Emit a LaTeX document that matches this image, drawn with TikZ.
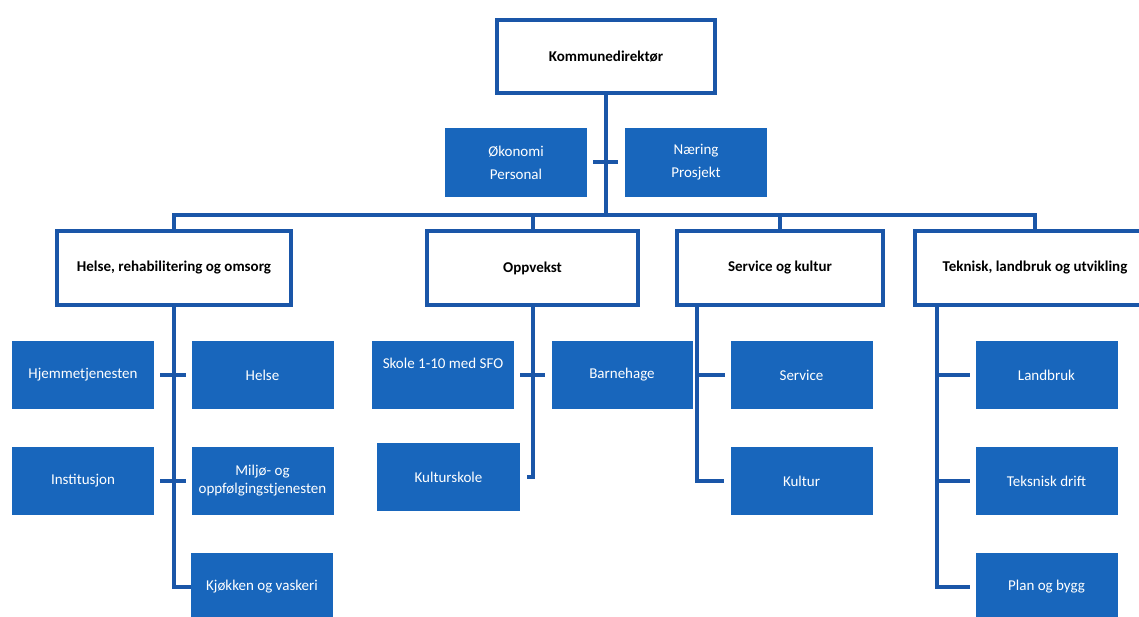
\documentclass[tikz,border=0pt]{standalone}
\usepackage{fontspec}
\setmainfont{Carlito}
\definecolor{orgline}{RGB}{26,86,168}
\definecolor{orgfill}{RGB}{24,102,188}

\begin{document}
\begin{tikzpicture}
[x=1pt,y=-1pt,line width=4pt,orgline,%
  every node/.style={shape=rectangle,inner sep=2pt,align=center},%
  head/.style={draw=orgline,fill=white,text=black,font=\bfseries,minimum height=74pt},%
  unit/.style={fill=orgfill,text=white,outer sep=0pt,minimum width=142pt,minimum height=68pt}]
\fontsize{15}{18}\selectfont
\useasboundingbox (0,0) rectangle (1139,617);
\node[head,minimum width=218pt,minimum height=73pt] (top) at (606,56.5) {Kommunedirektør};
\node[unit,minimum height=69pt] (okon) at (516,162.5) {Økonomi\\[5pt]Personal};
\node[unit,minimum height=69pt] (naer) at (696,162.5) {Næring\\[5pt]Prosjekt};
\node[head,minimum width=234pt] (hro) at (174,268) {Helse, rehabilitering og omsorg};
\node[head,minimum width=211pt] (oppv) at (532.5,268) {Oppvekst};
\node[head,minimum width=206pt] (sok) at (780,268) {Service og kultur};
\node[head,minimum width=240pt] (tlu) at (1035,268) {Teknisk, landbruk og utvikling};
\node[unit] (hjem) at (83,375) {Hjemmetjenesten};
\node[unit] (hels) at (262.5,375) {Helse};
\node[unit] (inst) at (83,480.5) {Institusjon};
\node[unit] (milj) at (262.5,480.5) {Miljø- og\\oppfølgingstjenesten};
\node[unit] (kjok) at (262,587) {Kjøkken og vaskeri};
\node[unit] (skole) at (443,375) {\raisebox{7pt}[0pt][0pt]{Skole 1-10 med SFO}};
\node[unit,minimum width=141pt] (barn) at (622,375) {Barnehage};
\node[unit,minimum width=143pt] (kskole) at (448.5,477) {Kulturskole};
\node[unit] (tjen) at (801.5,375) {Service};
\node[unit] (kultur) at (801.5,481) {Kultur};
\node[unit] (land) at (1046.5,375) {Landbruk};
\node[unit] (tdrift) at (1046.5,481) {Teksnisk drift};
\node[unit] (plan) at (1046.5,587) {Plan og bygg};
\coordinate (bus) at (0,215);
\coordinate (sokl) at ([xshift=22pt]sok.south west);
\coordinate (tlul) at ([xshift=24pt]tlu.south west);
\draw (top.south) -- (top.south |- bus);
\draw ([xshift=6pt]okon.east) -- ([xshift=-7pt]naer.west);
\draw (hro.north) -- (hro.north |- bus) -- (tlu.north |- bus) -- (tlu.north);
\draw (oppv.north) -- (oppv.north |- bus);
\draw (sok.north) -- (sok.north |- bus);
\draw (hro.south) |- (kjok.west);
\draw ([xshift=6pt]hjem.east) -- ([xshift=-6pt]hels.west);
\draw ([xshift=6pt]inst.east) -- ([xshift=-6pt]milj.west);
\draw (oppv.south) |- ([xshift=7pt]kskole.east);
\draw ([xshift=6pt]skole.east) -- ([xshift=-7pt]barn.west);
\draw (sokl) |- ([xshift=-7pt]kultur.west);
\draw (tjen.west -| sokl) -- ([xshift=-6pt]tjen.west);
\draw (tlul) |- ([xshift=-6pt]plan.west);
\draw (land.west -| tlul) -- ([xshift=-6pt]land.west);
\draw (tdrift.west -| tlul) -- ([xshift=-6pt]tdrift.west);
\end{tikzpicture}
\end{document}
